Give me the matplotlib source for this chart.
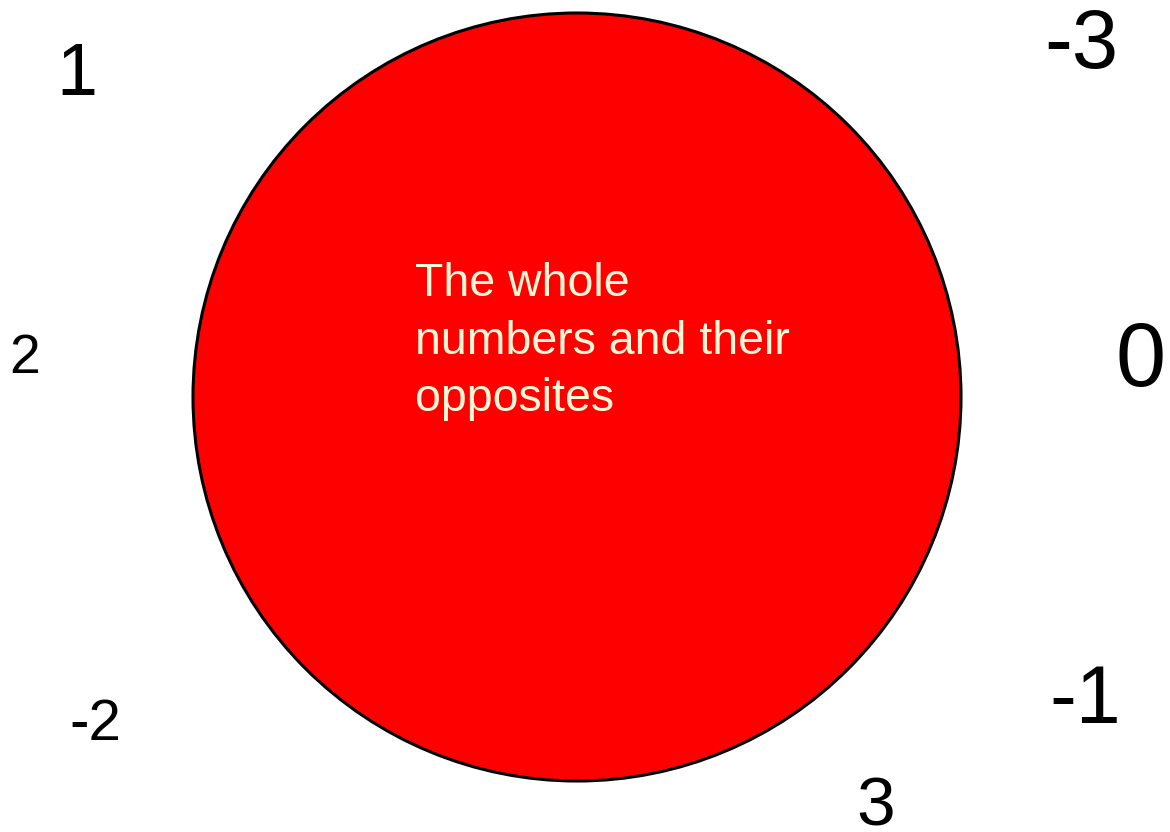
import matplotlib
matplotlib.use("Agg")
import matplotlib.pyplot as plt
from matplotlib.patches import Circle

# Labels scattered around the set circle
labels = ["1", "-3", "2", "0", "-2", "-1", "3"]
label_x = [77, 1081, 25, 1141, 95, 1085, 876]
label_baseline = [95, 68, 373, 386, 740, 723, 825]
label_size = [53, 60, 40, 65, 42, 58, 50]

set_text = "The whole\nnumbers and their\nopposites"

W, H, DPI = 1170, 832, 100
fig = plt.figure(figsize=(W / DPI, H / DPI), dpi=DPI)
ax = fig.add_axes([0, 0, 1, 1])
ax.set_xlim(0, W)
ax.set_ylim(H, 0)
ax.axis("off")

circ = Circle((577, 397), 384, facecolor="#FF0000", edgecolor="black", linewidth=2.2)
ax.add_patch(circ)

ax.text(415, 262, set_text, color="#FFF6D5", fontsize=33.5, family="Liberation Sans",
        ha="left", va="top", linespacing=1.4)

for t, x, y, s in zip(labels, label_x, label_baseline, label_size):
    ax.text(x, y, t, fontsize=s, family="Liberation Sans", color="black",
            ha="center", va="baseline")

fig.savefig("out.png", dpi=DPI, facecolor="white")
